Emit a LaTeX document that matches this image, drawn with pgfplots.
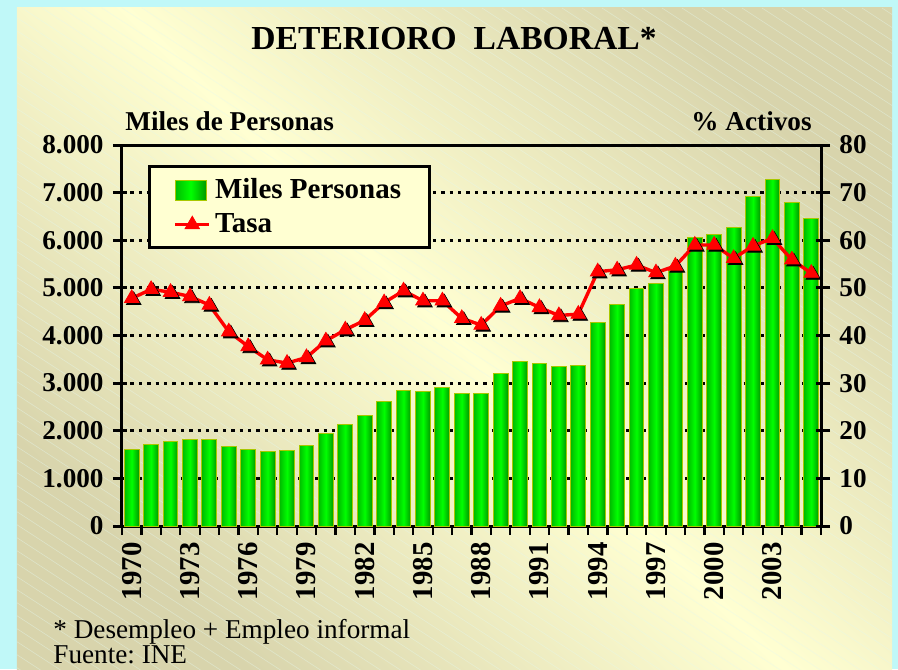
\documentclass[border=0pt]{standalone}
\usepackage{pgfplots}
\pgfplotsset{compat=1.18}
\usepackage{pgfplotstable}
\usepackage{fontspec}
\setmainfont{Liberation Serif}
\frenchspacing
\definecolor{bgcyan}{HTML}{C0F8F8}
\definecolor{pale}{HTML}{FFFFD2}
\definecolor{tan}{HTML}{D8D4AC}
\definecolor{gdark}{HTML}{00B400}
\definecolor{gbright}{HTML}{00FF00}
\definecolor{gedge}{HTML}{A8C800}
\definecolor{stripe}{HTML}{E4F8EE}

\pgfplotstableread{
year persons
1970 1600
1971 1720
1972 1780
1973 1820
1974 1820
1975 1675
1976 1615
1977 1555
1978 1585
1979 1700
1980 1945
1981 2140
1982 2330
1983 2610
1984 2835
1985 2815
1986 2905
1987 2775
1988 2780
1989 3200
1990 3460
1991 3415
1992 3340
1993 3380
1994 4280
1995 4655
1996 4980
1997 5100
1998 5370
1999 6065
2000 6120
2001 6260
2002 6920
2003 7285
2004 6785
2005 6455
}\personas

\pgfplotstableread{
year tasa
1970 47.8
1971 49.7
1972 49.1
1973 48.2
1974 46.4
1975 40.8
1976 37.7
1977 34.9
1978 34.2
1979 35.4
1980 38.9
1981 41.2
1982 43.2
1983 46.9
1984 49.4
1985 47.3
1986 47.3
1987 43.6
1988 42.2
1989 46.2
1990 47.8
1991 45.9
1992 44.2
1993 44.5
1994 53.4
1995 53.8
1996 54.8
1997 53.2
1998 54.6
1999 59.0
2000 59.0
2001 56.2
2002 58.8
2003 60.4
2004 55.9
2005 53.1
}\tasa

\begin{document}
\begin{tikzpicture}
% background
\useasboundingbox (-61pt,-71.5pt) rectangle (388pt,263pt);
\fill[bgcyan] (-61pt,-71.5pt) rectangle (388pt,263pt);
\shade[top color=tan, bottom color=tan, middle color=pale, shading angle=-45]
  (-52.5pt,-71.5pt) rectangle (385pt,259pt);
\begin{scope}
\clip (-52.5pt,-71.5pt) rectangle (385pt,259pt);
\foreach \i in {-60,...,50} {
  \draw[stripe, line width=0.3pt, opacity=0.45] (\i*10pt,259pt) -- ++(560pt,-364pt);
}
\end{scope}

% texts
\node[font=\bfseries\fontsize{16.8}{19}\selectfont, anchor=base] at (166pt,238.4pt) {DETERIORO\ \ LABORAL*};
\node[font=\bfseries\fontsize{13.6}{15}\selectfont, anchor=base west, inner sep=0pt] at (1.5pt,197.5pt) {Miles de Personas};
\node[font=\bfseries\fontsize{13.6}{15}\selectfont, anchor=base east, inner sep=0pt] at (345pt,197.5pt) {\% Activos};
\node[font=\fontsize{13.6}{15}\selectfont, anchor=base west, inner sep=0pt] at (-34.5pt,-56pt) {* Desempleo + Empleo informal};
\node[font=\fontsize{13.6}{15}\selectfont, anchor=base west, inner sep=0pt] at (-34.5pt,-68.5pt) {Fuente: INE};

% bars
\begin{axis}[
  at={(0pt,0pt)}, anchor=south west,
  scale only axis, width=349.5pt, height=190.5pt,
  xmin=1969.5, xmax=2005.5,
  ymin=0, ymax=8000,
  axis line style={line width=1.5pt},
  ytick={0,1000,...,8000},
  ytick pos=left,
  xtick pos=bottom,
  xtick={1970,1973,...,2003},
  minor xtick={1969.5,1970.5,...,2005.5},
  major x tick style={draw=none},
  minor x tick style={line width=1.1pt, black},
  minor tick length=4.5pt,
  tick align=outside,
  major tick length=7pt,
  y tick style={line width=1.5pt, black, xshift=2.5pt},
  scaled y ticks=false,
  /pgf/number format/assume math mode=true,
  yticklabel style={font=\bfseries\fontsize{13.6}{15}\selectfont, /pgf/number format/1000 sep={.}, inner sep=2pt},
  xticklabel style={font=\bfseries\fontsize{14.4}{15}\selectfont, rotate=90, anchor=east, inner sep=1pt},
  xticklabel={\pgfmathprintnumber[1000 sep={},precision=0,fixed]{\tick}},
  ymajorgrids,
  grid style={black, line width=1.5pt, dash pattern=on 1.7pt off 2.5pt},
  axis on top=false,
]
\pgfplotsinvokeforeach{1970,...,2005}{
\addplot[ybar, bar shift=0pt, bar width=0.76, draw=gedge, line width=0.5pt,
  left color=gdark!90!gbright, right color=gdark!85!black, middle color=gbright, forget plot,
  restrict x to domain=#1:#1]
  table[x=year, y=persons] {\personas};
}
\end{axis}

% line
\begin{axis}[
  at={(0pt,0pt)}, anchor=south west,
  scale only axis, width=349.5pt, height=190.5pt,
  xmin=1969.5, xmax=2005.5,
  ymin=0, ymax=80,
  axis x line=none,
  axis y line*=right,
  axis line style={line width=1.5pt},
  ytick={0,10,...,80},
  tick align=outside,
  major tick length=7pt,
  y tick style={line width=1.5pt, black, xshift=-2.5pt},
  /pgf/number format/assume math mode=true,
  yticklabel style={font=\bfseries\fontsize{13.6}{15}\selectfont, inner sep=2pt},
  legend style={at={(0.0372,0.9475)}, anchor=north west, draw=black, line width=1.5pt,
    fill=pale, font=\bfseries\fontsize{14.5}{16}\selectfont,
    inner xsep=12pt, inner ysep=4pt, row sep=2pt,
    cells={anchor=west}},
  legend cell align=left,
]
\addlegendimage{legend image code/.code={
  \shade[left color=gdark!90!gbright, right color=gdark!85!black, middle color=gbright, draw=gedge, line width=0.5pt]
    (0pt,-5pt) rectangle (15.5pt,5pt);}}
\addlegendentry{Miles Personas}
\addplot[only marks, mark=triangle*, mark size=4.2pt, black, forget plot,
  mark options={xshift=1pt, yshift=-1pt}]
  table[x=year, y=tasa] {\tasa};
\addplot[red, line width=1.7pt, mark=triangle*, mark size=4.2pt,
  mark options={solid, fill=red, draw=red, line width=0.4pt}]
  table[x=year, y=tasa] {\tasa};
\addlegendentry{Tasa}
\end{axis}
\end{tikzpicture}
\end{document}
